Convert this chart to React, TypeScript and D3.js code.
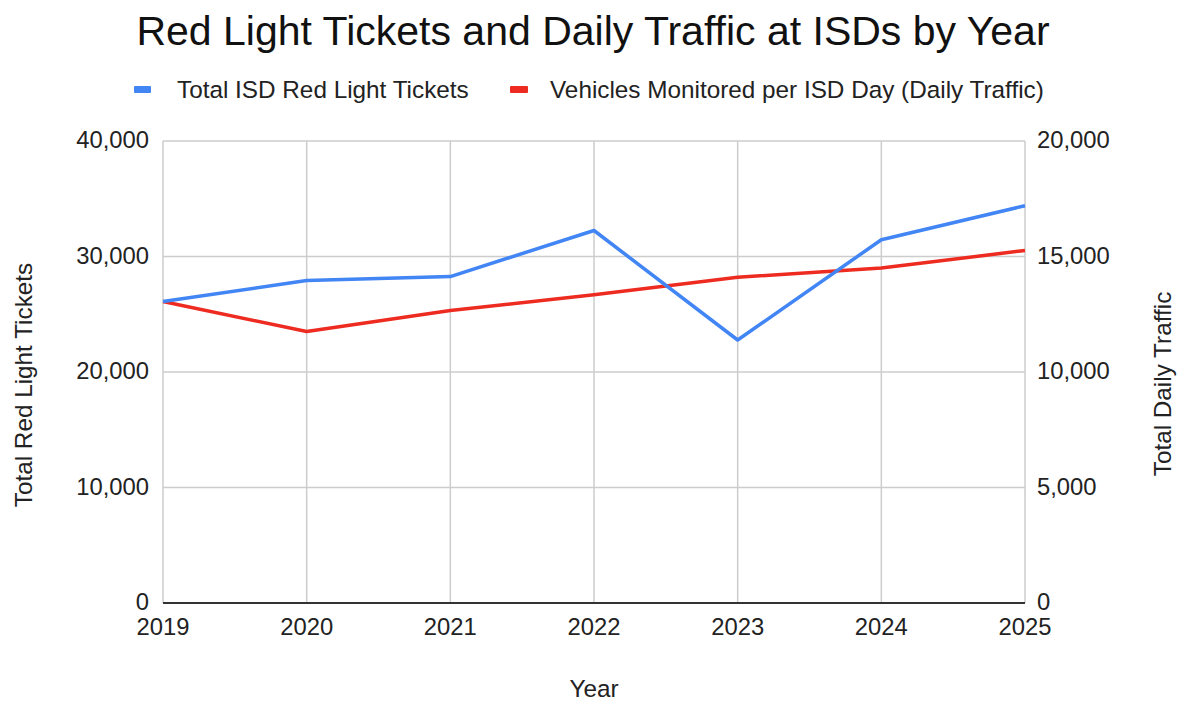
import React from "react";
import * as d3 from "d3";

const years = ["2019", "2020", "2021", "2022", "2023", "2024", "2025"];
const tickets = [26100, 27920, 28260, 32250, 22770, 31450, 34400];
const traffic = [13050, 11750, 12660, 13340, 14100, 14500, 15260];
const leftTicks = [0, 10000, 20000, 30000, 40000];
const rightTicks = [0, 5000, 10000, 15000, 20000];

const W = 1183, H = 703;
const M = { left: 163, right: 1025, top: 141, bottom: 603 };
const BLUE = "#4285F4";
const RED = "#EE2B20";
const FONT = "Arial, 'Liberation Sans', sans-serif";
const FS = 24.3;
const FT = 23.8;

export default function App() {
  const x = d3.scalePoint().domain(years).range([M.left, M.right]);
  const yL = d3.scaleLinear().domain([0, 40000]).range([M.bottom, M.top]);
  const yR = d3.scaleLinear().domain([0, 20000]).range([M.bottom, M.top]);
  const fmt = d3.format(",");
  const lineL = d3.line<number>().x((_, i) => x(years[i])!).y((d) => yL(d));
  const lineR = d3.line<number>().x((_, i) => x(years[i])!).y((d) => yR(d));

  return (
    <svg width={W} height={H} style={{ position: "absolute", left: 0, top: 0, background: "#fff" }} fontFamily={FONT}>
      <rect width={W} height={H} fill="#fff" />
      <text x={593} y={45} textAnchor="middle" fontSize={41} fill="#111">
        Red Light Tickets and Daily Traffic at ISDs by Year
      </text>
      {/* legend */}
      <rect x={134} y={86} width={17} height={7} rx={1} fill={BLUE} />
      <text x={177} y={98} fontSize={FS} fill="#222">Total ISD Red Light Tickets</text>
      <rect x={510} y={86} width={18} height={7} rx={1} fill={RED} />
      <text x={550} y={98} fontSize={FS} fill="#222">Vehicles Monitored per ISD Day (Daily Traffic)</text>

      {/* grid */}
      {leftTicks.map((t) => (
        <line key={"h" + t} x1={M.left} x2={M.right} y1={yL(t)} y2={yL(t)} stroke="#cccccc" strokeWidth={1.5} />
      ))}
      {years.map((yv) => (
        <line key={"v" + yv} x1={x(yv)} x2={x(yv)} y1={M.top} y2={M.bottom} stroke="#cccccc" strokeWidth={1.5} />
      ))}
      <line x1={M.left} x2={M.right} y1={M.bottom} y2={M.bottom} stroke="#333" strokeWidth={2} />

      {/* ticks */}
      {leftTicks.map((t) => (
        <text key={"l" + t} x={149} y={yL(t) + 7} textAnchor="end" fontSize={FT} fill="#222">{fmt(t)}</text>
      ))}
      {rightTicks.map((t) => (
        <text key={"r" + t} x={1037} y={yR(t) + 7} textAnchor="start" fontSize={FT} fill="#222">{fmt(t)}</text>
      ))}
      {years.map((yv) => (
        <text key={"x" + yv} x={x(yv)} y={635} textAnchor="middle" fontSize={FT} fill="#222">{yv}</text>
      ))}

      {/* axis titles */}
      <text x={594} y={697} textAnchor="middle" fontSize={FS} fill="#222">Year</text>
      <text transform={`translate(32,385) rotate(-90)`} textAnchor="middle" fontSize={FS} fill="#222">Total Red Light Tickets</text>
      <text transform={`translate(1171,384) rotate(-90)`} textAnchor="middle" fontSize={FS} fill="#222">Total Daily Traffic</text>

      {/* lines */}
      <path d={lineR(traffic)!} fill="none" stroke={RED} strokeWidth={3.5} strokeLinejoin="round" />
      <path d={lineL(tickets)!} fill="none" stroke={BLUE} strokeWidth={3.5} strokeLinejoin="round" />
    </svg>
  );
}
